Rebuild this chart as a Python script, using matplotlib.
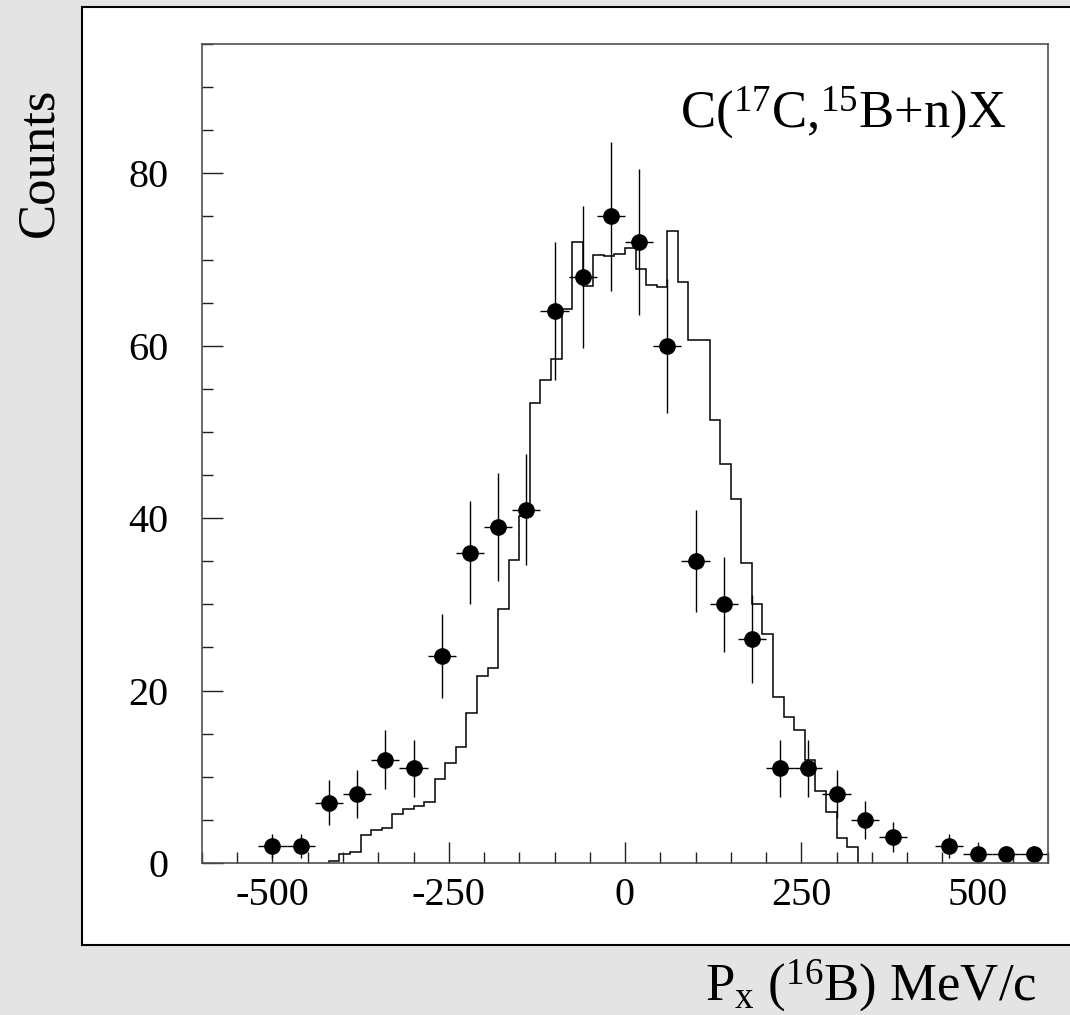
import numpy as np
import matplotlib.pyplot as plt
from matplotlib.patches import Rectangle
from matplotlib.ticker import MultipleLocator

plt.rcParams['font.family'] = 'Liberation Serif'
plt.rcParams['mathtext.fontset'] = 'custom'
plt.rcParams['mathtext.rm'] = 'Liberation Serif'
plt.rcParams['mathtext.it'] = 'Liberation Serif:italic'
plt.rcParams['axes.unicode_minus'] = False

# measured points (bin centres, counts), error = sqrt(N)
px_data = [-500, -460, -420, -380, -340, -300, -260, -220, -180, -140, -100, -60, -20,
           20, 60, 100, 140, 180, 220, 260, 300, 340, 380, 460, 500, 540, 580]
counts = [2, 2, 7, 8, 12, 11, 24, 36, 39, 41, 64, 68, 75,
          72, 60, 35, 30, 26, 11, 11, 8, 5, 3, 2, 1, 1, 1]
px_halfwidth = 20

# simulated distribution, 15 MeV/c bins starting at -420
sim_first_edge = -420
sim_bin = 15
sim_counts = [0.2, 1.1, 1.3, 3.3, 3.8, 4.1, 5.7, 6.3, 6.65, 7.1,
              9.7, 11.6, 13.4, 17.4, 21.7, 22.6, 29.5, 35.1, 40.3, 53.4,
              56.0, 58.5, 64.3, 72.0, 66.9, 70.5, 70.4, 70.6, 71.3, 68.9,
              67.1, 66.8, 73.3, 67.4, 60.7, 60.7, 51.4, 46.3, 42.2, 34.8,
              30.1, 26.6, 19.2, 16.9, 15.4, 11.95, 8.3, 5.9, 2.9, 1.9]

x_ticks = [-500, -250, 0, 250, 500]

W, H = 1070, 1015
fig = plt.figure(figsize=(W / 100, H / 100), dpi=100)
fig.patch.set_facecolor('#e4e4e4')

# white pad with black frame
pad = Rectangle((82 / W, 1 - 945 / H), 1.0, (945 - 6.5) / H,
                transform=fig.transFigure, facecolor='white',
                edgecolor='black', linewidth=1.5, zorder=-10)
fig.patches.append(pad)

ax = fig.add_axes([202 / W, 1 - 863 / H, (1048 - 202) / W, (863 - 44) / H])
ax.set_facecolor('white')

edges = sim_first_edge + sim_bin * np.arange(len(sim_counts) + 1)
ax.stairs(sim_counts, edges, baseline=0, color='black', linewidth=1.1)

y = np.array(counts, dtype=float)
ax.errorbar(px_data, y, xerr=px_halfwidth, yerr=np.sqrt(y), fmt='o', color='black',
            ms=11, elinewidth=1.0, capsize=0)

ax.set_xlim(-600, 600)
ax.set_ylim(0, 95)
ax.set_xticks(x_ticks)
ax.xaxis.set_minor_locator(MultipleLocator(50))
ax.yaxis.set_major_locator(MultipleLocator(20))
ax.yaxis.set_minor_locator(MultipleLocator(5))
ax.tick_params(which='both', direction='in', top=False, right=False,
               labelsize=29, color='#202020', width=1.0)
ax.tick_params(which='major', length=15)
ax.tick_params(which='minor', length=8)
ax.tick_params(axis='x', pad=10)
ax.tick_params(axis='y', pad=24)
for s in ax.spines.values():
    s.set_color('#505050')
    s.set_linewidth(1.2)

fig.text(1006 / W, 1 - 127 / H, r'C($^{17}$C,$^{15}$B+n)X', fontsize=38,
         ha='right', va='baseline')
fig.text(39 / W, 1 - 162 / H, 'Counts', fontsize=38, rotation=90,
         ha='center', va='center')
fig.text(1037 / W, 1 - 1000 / H, r'P$_{\rm x}$ ($^{16}$B) MeV/c', fontsize=38,
         ha='right', va='baseline')

fig.savefig('out.png', dpi=100, facecolor=fig.get_facecolor())
